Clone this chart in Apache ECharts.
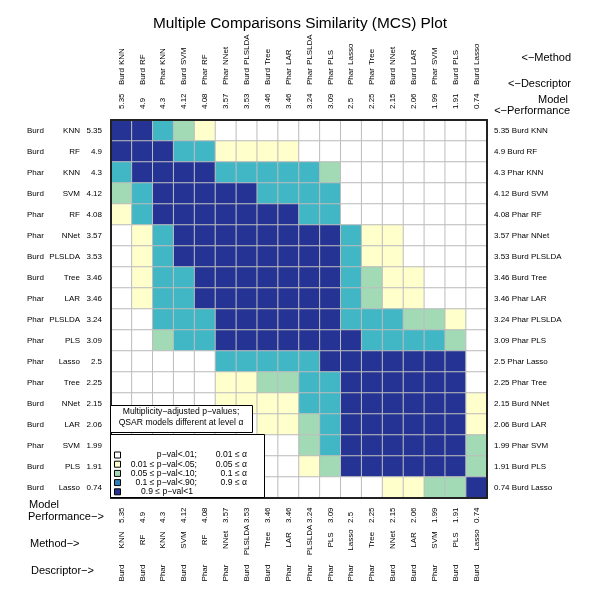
<!DOCTYPE html>
<html>
<head>
<meta charset="utf-8">
<script src="https://cdn.jsdelivr.net/npm/echarts@6/dist/echarts.min.js"></script>
<style>
  body { margin: 0; background: #fff; }
  #main { width: 600px; height: 600px; }
</style>
</head>
<body>
<div id="main"></div>
<script>
// model order (rows top->bottom, columns left->right)
const methods = ["KNN", "RF", "KNN", "SVM", "RF", "NNet", "PLSLDA", "Tree", "LAR", "PLSLDA", "PLS", "Lasso", "Tree", "NNet", "LAR", "SVM", "PLS", "Lasso"];
const descriptors = ["Burd", "Burd", "Phar", "Burd", "Phar", "Phar", "Burd", "Burd", "Phar", "Phar", "Phar", "Phar", "Phar", "Burd", "Burd", "Phar", "Burd", "Burd"];
const performance = [5.35, 4.9, 4.3, 4.12, 4.08, 3.57, 3.53, 3.46, 3.46, 3.24, 3.09, 2.5, 2.25, 2.15, 2.06, 1.99, 1.91, 0.74];

// p-value class of each pair: 0 <.01, 1 <.05, 2 <.10, 3 <.90, 4 >=.90
const simRows = [
  [4, 4, 3, 2, 1, 0, 0, 0, 0, 0, 0, 0, 0, 0, 0, 0, 0, 0],
  [4, 4, 4, 3, 3, 1, 1, 1, 1, 0, 0, 0, 0, 0, 0, 0, 0, 0],
  [3, 4, 4, 4, 4, 3, 3, 3, 3, 3, 2, 0, 0, 0, 0, 0, 0, 0],
  [2, 3, 4, 4, 4, 4, 4, 3, 3, 3, 3, 0, 0, 0, 0, 0, 0, 0],
  [1, 3, 4, 4, 4, 4, 4, 4, 4, 3, 3, 0, 0, 0, 0, 0, 0, 0],
  [0, 1, 3, 4, 4, 4, 4, 4, 4, 4, 4, 3, 1, 1, 0, 0, 0, 0],
  [0, 1, 3, 4, 4, 4, 4, 4, 4, 4, 4, 3, 1, 1, 0, 0, 0, 0],
  [0, 1, 3, 3, 4, 4, 4, 4, 4, 4, 4, 3, 2, 1, 1, 0, 0, 0],
  [0, 1, 3, 3, 4, 4, 4, 4, 4, 4, 4, 3, 2, 1, 1, 0, 0, 0],
  [0, 0, 3, 3, 3, 4, 4, 4, 4, 4, 4, 3, 3, 3, 2, 2, 1, 0],
  [0, 0, 2, 3, 3, 4, 4, 4, 4, 4, 4, 4, 3, 3, 3, 3, 2, 0],
  [0, 0, 0, 0, 0, 3, 3, 3, 3, 3, 4, 4, 4, 4, 4, 4, 4, 0],
  [0, 0, 0, 0, 0, 1, 1, 2, 2, 3, 3, 4, 4, 4, 4, 4, 4, 0],
  [0, 0, 0, 0, 0, 1, 1, 1, 1, 3, 3, 4, 4, 4, 4, 4, 4, 1],
  [0, 0, 0, 0, 0, 0, 0, 1, 1, 2, 3, 4, 4, 4, 4, 4, 4, 1],
  [0, 0, 0, 0, 0, 0, 0, 0, 0, 2, 3, 4, 4, 4, 4, 4, 4, 2],
  [0, 0, 0, 0, 0, 0, 0, 0, 0, 1, 2, 4, 4, 4, 4, 4, 4, 2],
  [0, 0, 0, 0, 0, 0, 0, 0, 0, 0, 0, 0, 0, 1, 1, 2, 2, 4],
];

const levelColors = ["#ffffff", "#ffffcc", "#a1dab4", "#41b6c4", "#253494"];
// the legend box shows a bluer swatch for the 4th class
const legendColors = ["#ffffff", "#ffffcc", "#a1dab4", "#2c7fb8", "#253494"];
const legendLeft = ["p\u2212val<.01;", "0.01 \u2264 p\u2212val<.05;", "0.05 \u2264 p\u2212val<.10;", "0.1 \u2264 p\u2212val<.90;", "0.9 \u2264 p\u2212val<1"];
const legendRight = ["0.01 \u2264 \u03b1", "0.05 \u2264 \u03b1", "0.1 \u2264 \u03b1", "0.9 \u2264 \u03b1", ""];

const FONT = "Liberation Sans, Arial, Helvetica, sans-serif";

let chartDom = document.getElementById("main");
let myChart = echarts.init(chartDom, null, { renderer: "canvas" });

let perfText = performance.map((v) => String(v));
let rightText = performance.map((v, i) => v + " " + descriptors[i] + " " + methods[i]);

let heatData = [];
simRows.forEach((row, r) => {
  row.forEach((v, c) => {
    heatData.push([c, r, v]);
  });
});

const frameLine = { show: true, lineStyle: { color: "#222", width: 2 } };

// helper for the stacked label axes (top axis rotation is mirrored by echarts)
const xLab = (pos, data, margin, align, line) => ({
  type: "category",
  gridIndex: 0,
  position: pos,
  data: data,
  z: 10,
  axisLine: line ? frameLine : { show: false },
  axisTick: { show: false },
  splitLine: { show: false },
  axisLabel: {
    interval: 0,
    rotate: pos === "top" ? -90 : 90,
    margin: margin,
    align: align,
    verticalAlign: "middle",
    fontSize: 8,
    fontFamily: FONT,
    color: "#000",
  },
});

const yLab = (pos, data, margin, align, line) => ({
  type: "category",
  gridIndex: 0,
  position: pos,
  inverse: true,
  data: data,
  z: 10,
  axisLine: line ? frameLine : { show: false },
  axisTick: { show: false },
  splitLine: { show: false },
  axisLabel: {
    interval: 0,
    margin: margin,
    align: align,
    verticalAlign: "middle",
    fontSize: 8,
    fontFamily: FONT,
    color: "#000",
  },
});

const gText = (x, y, text, align, size) => ({
  type: "text",
  x: x,
  y: y,
  z: 100,
  style: {
    text: text,
    align: align,
    textAlign: align,
    verticalAlign: "middle",
    textVerticalAlign: "middle",
    fontSize: size,
    fontFamily: FONT,
    fill: "#000",
  },
});

// legend boxes drawn over the lower-left corner
let graphics = [
  gText(571, 58, "<\u2212Method", "right", 11),
  gText(571, 84, "<\u2212Descriptor", "right", 11),
  gText(568, 100, "Model", "right", 11),
  gText(570, 111, "<\u2212Performance", "right", 11),
  gText(29, 505, "Model", "left", 11),
  gText(28, 517, "Performance\u2212>", "left", 11),
  gText(30, 544, "Method\u2212>", "left", 11),
  gText(31, 571, "Descriptor\u2212>", "left", 11),
  {
    type: "rect",
    z: 90,
    shape: { x: 110.5, y: 405.5, width: 142, height: 27 },
    style: { fill: "#fff", stroke: "#000", lineWidth: 1 },
  },
  gText(181, 412, "Multiplicity\u2212adjusted p\u2212values;", "center", 8.6),
  gText(181, 423, "QSAR models different at level \u03b1", "center", 8.6),
  {
    type: "rect",
    z: 90,
    shape: { x: 110.5, y: 434.5, width: 154, height: 63 },
    style: { fill: "#fff", stroke: "#000", lineWidth: 1 },
  },
];
legendColors.forEach((col, i) => {
  let y = 455 + i * 9.2;
  graphics.push({
    type: "rect",
    z: 100,
    shape: { x: 114.5, y: y - 3, width: 6, height: 6 },
    style: { fill: col, stroke: "#000", lineWidth: 1 },
  });
  graphics.push(gText(i === 4 ? 193 : 197, y, legendLeft[i], "right", 8.6));
  graphics.push(gText(247, y, legendRight[i], "right", 8.6));
});

let option = {
  backgroundColor: "#fff",
  animation: false,
  title: {
    text: "Multiple Comparisons Similarity (MCS) Plot",
    left: "center",
    top: 11,
    textStyle: { fontSize: 15.4, fontWeight: "normal", fontFamily: FONT, color: "#000" },
  },
  grid: {
    left: 111,
    right: 113,
    top: 120,
    bottom: 102,
    containLabel: false,
    outerBoundsMode: "none",
  },
  xAxis: [
    xLab("bottom", perfText, 25, "left", true),
    xLab("bottom", methods, 42, "center", false),
    xLab("bottom", descriptors, 75, "center", false),
    xLab("top", perfText, 11, "left", true),
    xLab("top", descriptors, 35, "left", false),
    xLab("top", methods, 55, "left", false),
  ],
  yAxis: [
    yLab("left", perfText, 9, "right", true),
    yLab("left", methods, 31, "right", false),
    yLab("left", descriptors, 84, "left", false),
    yLab("right", rightText, 7, "left", true),
  ],
  visualMap: {
    type: "piecewise",
    show: false,
    dimension: 2,
    seriesIndex: 0,
    pieces: levelColors.map((c, i) => ({ value: i, color: c })),
  },
  series: [
    {
      type: "heatmap",
      xAxisIndex: 0,
      yAxisIndex: 0,
      data: heatData,
      itemStyle: { borderColor: "#bdbdbd", borderWidth: 1 },
      emphasis: { disabled: true },
    },
  ],
  graphic: graphics,
};
myChart.setOption(option);
</script>
</body>
</html>
